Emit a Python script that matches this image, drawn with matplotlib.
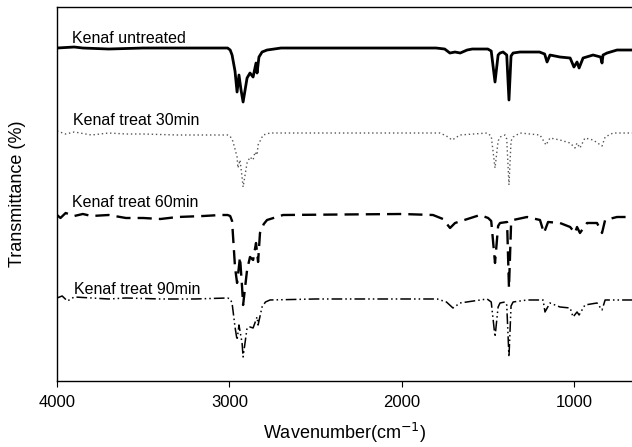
import numpy as np
import matplotlib
matplotlib.use("Agg")
import matplotlib.pyplot as plt

plt.rcParams['font.family'] = ['Liberation Sans', 'DejaVu Sans']

# FTIR spectra (wavenumber in cm-1, transmittance in arbitrary offset units)
wn_untreated = [4000, 3900, 3850, 3700, 3500, 3300, 3100, 3010, 2995, 2984, 2967, 2955, 2944, 2932, 2920,
                2897, 2880, 2862, 2845, 2839, 2828, 2810, 2781, 2740, 2700, 2400, 2000, 1800, 1750, 1720, 1690,
                1660, 1620, 1590, 1500, 1480, 1458, 1440, 1429, 1411, 1390, 1377, 1365, 1353, 1313, 1200, 1170, 1156, 1139, 1081, 1022,
                1000, 982, 970, 947, 889, 845, 837, 831, 808, 750, 663]
t_untreated = [333, 334, 333, 332, 333, 333, 333, 333, 331, 326, 310, 289, 306, 291, 279,
               303, 308, 304, 318, 308, 324, 329, 331, 332, 333, 333, 333, 333, 332, 328, 329,
               328, 331, 332, 332, 330, 299, 326, 328, 329, 326, 281, 325, 328, 329, 329, 327, 319, 326, 324, 323,
               314, 319, 313, 323, 326, 324, 318, 326, 328, 331, 331]

wn_30 = [4000, 3950, 3900, 3800, 3700, 3600, 3500, 3300, 3100, 3010, 2996, 2980, 2967, 2955, 2950, 2938, 2926,
         2920, 2897, 2880, 2862, 2851, 2839, 2833, 2804, 2764, 2500, 2000, 1777, 1740, 1707, 1661, 1504, 1480,
         1458, 1440, 1429, 1400, 1390, 1377, 1365, 1353, 1313, 1197, 1162, 1139, 1081, 1022, 994, 982, 965, 936,
         889, 837, 819, 773, 663]
t_30 = [250, 247, 249, 246, 248, 247, 247, 246, 246, 246, 245, 240, 232, 224, 213, 221, 204,
        194, 218, 224, 221, 229, 226, 236, 246, 248, 248, 248, 248, 245, 241, 246, 248, 245,
        213, 240, 244, 246, 242, 196, 240, 244, 248, 246, 236, 243, 241, 238, 233, 238, 233, 243,
        241, 235, 244, 248, 248]

wn_60 = [4000, 3980, 3950, 3900, 3850, 3800, 3700, 3600, 3500, 3400, 3300, 3150, 3050, 3010, 2995, 2984,
         2967, 2955, 2938, 2926, 2920, 2897, 2880, 2862, 2845, 2833, 2822, 2800, 2781, 2688, 2000, 1818,
         1760, 1719, 1690, 1545, 1498, 1480, 1458, 1440, 1429, 1388, 1377, 1365, 1353, 1272, 1197, 1174, 1150, 1081, 1022,
         994, 982, 965, 924, 866, 837, 819, 750, 663]
t_60 = [166, 163, 168, 165, 167, 165, 166, 163, 163, 162, 164, 165, 166, 166, 165, 160,
        114, 98, 124, 94, 76, 111, 124, 121, 138, 119, 148, 157, 161, 166, 167, 166,
        162, 153, 158, 166, 163, 160, 118, 155, 158, 159, 93, 156, 161, 164, 161, 148, 159, 158, 154,
        148, 154, 148, 158, 158, 148, 161, 164, 164]

wn_90 = [4000, 3970, 3940, 3900, 3800, 3700, 3600, 3400, 3200, 3010, 2995, 2984, 2967, 2955, 2944, 2926,
         2920, 2897, 2880, 2862, 2839, 2833, 2810, 2790, 2764, 2500, 2000, 1794, 1740, 1702, 1661, 1504, 1480, 1458,
         1440, 1429, 1400, 1390, 1377, 1365, 1353, 1272, 1179, 1168, 1139, 1081, 1022, 1005, 982, 970, 936, 866,
         837, 819, 750, 663]
t_90 = [83, 85, 80, 84, 83, 82, 83, 82, 82, 83, 82, 78, 54, 41, 56, 38,
        24, 53, 54, 53, 64, 56, 74, 79, 81, 82, 82, 82, 79, 73, 78, 82, 79, 44,
        74, 78, 79, 76, 24, 75, 79, 81, 81, 69, 78, 74, 73, 64, 69, 66, 76, 78,
        71, 81, 81, 81]

labels = ['Kenaf untreated', 'Kenaf treat 30min', 'Kenaf treat 60min', 'Kenaf treat 90min']
label_x = [3913, 3907, 3913, 3901]
label_y = [343, 261, 178, 91]

fig = plt.figure(figsize=(6.32, 4.47), dpi=100)
ax = fig.add_axes([0.0902, 0.1477, 0.9098, 0.8366])

ax.plot(wn_untreated, t_untreated, color='black', lw=2.0, solid_joinstyle='round')
ax.plot(wn_30, t_30, color='#555555', lw=1.0, ls=(0, (1, 2)))
ax.plot(wn_60, t_60, color='black', lw=1.7, ls=(0, (6, 3)))
ax.plot(wn_90, t_90, color='black', lw=1.1, ls=(0, (7, 2, 1, 2, 1, 2)))

for txt, x, y in zip(labels, label_x, label_y):
    ax.text(x, y, txt, fontsize=11.5, va='center', ha='left')

ax.set_xlim(4000, 663)
ax.set_ylim(0, 374)
ax.set_xticks([4000, 3000, 2000, 1000])
ax.set_yticks([])
ax.tick_params(axis='x', direction='out', length=4, labelsize=12, pad=6)
ax.spines['right'].set_visible(False)
for s in ['left', 'top', 'bottom']:
    ax.spines[s].set_linewidth(1.0)

ax.set_xlabel('Wavenumber(cm$^{-1}$)', fontsize=13, labelpad=8)
ax.set_ylabel('Transmittance (%)', fontsize=13, labelpad=22)

fig.savefig('out.png', dpi=100)
